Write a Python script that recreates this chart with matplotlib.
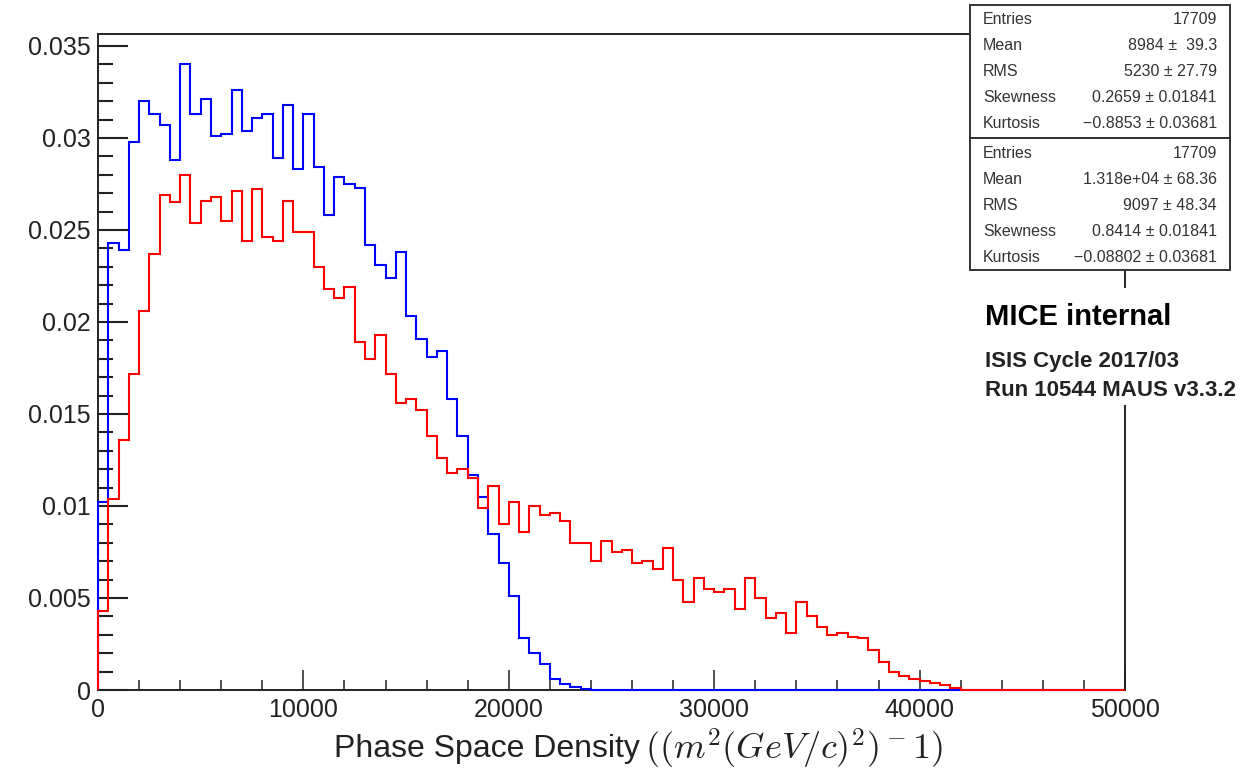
import matplotlib
matplotlib.use("Agg")
import matplotlib.pyplot as plt
from matplotlib.patches import Rectangle
from matplotlib.ticker import MultipleLocator, FormatStrFormatter
import numpy as np

plt.rcParams['font.family'] = ['Liberation Sans', 'DejaVu Sans']
plt.rcParams['mathtext.fontset'] = 'cm'

# 100 bins of 500 from 0 to 50000, normalised histograms
edges = np.arange(0, 50001, 500)

upstream = [0.0102, 0.0243, 0.0239, 0.0298, 0.0320, 0.0313, 0.0307, 0.0288, 0.0340, 0.0313,
            0.0321, 0.0301, 0.0302, 0.0326, 0.0304, 0.0311, 0.0313, 0.0289, 0.0318, 0.0283,
            0.0313, 0.0284, 0.0258, 0.0279, 0.0275, 0.0273, 0.0242, 0.0231, 0.0224, 0.0238,
            0.0203, 0.0191, 0.0181, 0.0184, 0.0158, 0.0138, 0.0117, 0.0105, 0.0085, 0.0069,
            0.0051, 0.0028, 0.0020, 0.0014, 0.0006, 0.00035, 0.00018, 0.00005] + [0.0] * 52

downstream = [0.0043, 0.0104, 0.0136, 0.0172, 0.0206, 0.0237, 0.0269, 0.0265, 0.0280, 0.0254,
              0.0266, 0.0268, 0.0255, 0.0271, 0.0244, 0.0272, 0.0246, 0.0244, 0.0266, 0.0249,
              0.0249, 0.0230, 0.0218, 0.0213, 0.0219, 0.0189, 0.0180, 0.0193, 0.0172, 0.0156,
              0.0158, 0.0152, 0.0138, 0.0126, 0.0118, 0.0120, 0.0115, 0.0099, 0.0111, 0.0090,
              0.0102, 0.0086, 0.0100, 0.0095, 0.0096, 0.0092, 0.0080, 0.0080, 0.0070, 0.0081,
              0.0075, 0.0076, 0.0069, 0.0070, 0.0066, 0.0077, 0.0060, 0.0048, 0.0061, 0.0055,
              0.0053, 0.0055, 0.0044, 0.0061, 0.0050, 0.0039, 0.0042, 0.0031, 0.0048, 0.0040,
              0.0034, 0.0030, 0.0031, 0.0029, 0.0028, 0.0022, 0.0015, 0.0010, 0.00076, 0.00062,
              0.00049, 0.00036, 0.00027, 0.00013] + [0.0] * 16

stat_names = ['Entries', 'Mean', 'RMS', 'Skewness', 'Kurtosis']
stats_up = ['17709', '8984 \u00b1  39.3', '5230 \u00b1 27.79',
            '0.2659 \u00b1 0.01841', '\u22120.8853 \u00b1 0.03681']
stats_down = ['17709', '1.318e+04 \u00b1 68.36', '9097 \u00b1 48.34',
              '0.8414 \u00b1 0.01841', '\u22120.08802 \u00b1 0.03681']

xlabel_text = 'Phase Space Density'
xlabel_unit = r'$((m^2(GeV/c)^2)^-1)$'
label_lines = ['MICE internal', 'ISIS Cycle 2017/03', 'Run 10544 MAUS v3.3.2']

W, H = 1247, 773
fig = plt.figure(figsize=(W / 100, H / 100), dpi=100)
ax = fig.add_axes([98 / W, 1 - 690 / H, (1125 - 98) / W, (690 - 34) / H])

ax.stairs(upstream, edges, baseline=0, color='#0000ff', lw=1.5, zorder=3, clip_on=False)
ax.stairs(downstream, edges, baseline=0, color='#ff0000', lw=1.5, zorder=4, clip_on=False)

ax.set_xlim(0, 50000)
ax.set_ylim(0, 0.03565)

ax.xaxis.set_major_locator(MultipleLocator(10000))
ax.xaxis.set_minor_locator(MultipleLocator(2000))
ax.yaxis.set_major_locator(MultipleLocator(0.005))
ax.yaxis.set_minor_locator(MultipleLocator(0.001))
ax.xaxis.set_major_formatter(FormatStrFormatter('%d'))
ax.yaxis.set_major_formatter(FormatStrFormatter('%g'))

ax.tick_params(axis='y', which='major', direction='in', length=21.6, width=1.5,
               labelsize=18, pad=5, colors='#222222')
ax.tick_params(axis='y', which='minor', direction='in', length=10.8, width=1.5, colors='#222222')
ax.tick_params(axis='x', which='major', direction='in', length=14.4, width=1.1,
               labelsize=18, pad=6, colors='#222222')
ax.tick_params(axis='x', which='minor', direction='in', length=7.2, width=1.1, colors='#222222')

for s in ax.spines.values():
    s.set_linewidth(1.4)
    s.set_color('#222222')

# axis title: plain words plus the unit in math italics
fig.text(640 / W, 1 - 749 / H, xlabel_text, fontsize=23, ha='right', va='center',
         color='#222222')
fig.text(645 / W, 1 - 749 / H, xlabel_unit, fontsize=26, ha='left', va='center',
         color='#222222')

# stat boxes, top right
def stat_box(y0, y1, values):
    fig.patches.append(Rectangle((970 / W, 1 - y1 / H), 260 / W, (y1 - y0) / H,
                                 transform=fig.transFigure, facecolor='white',
                                 edgecolor='#333333', lw=1.4, zorder=10))
    for i, (name, val) in enumerate(zip(stat_names, values)):
        yy = 1 - (y0 + 15 + 26 * i) / H
        fig.text(983 / W, yy, name, fontsize=11.5, va='center', ha='left',
                 color='#333333', zorder=11)
        fig.text(1217 / W, yy, val, fontsize=11.5, va='center', ha='right',
                 color='#333333', zorder=11)

stat_box(5, 138, stats_up)
stat_box(138, 270, stats_down)

# experiment label over the frame
fig.patches.append(Rectangle((975 / W, 1 - 405 / H), 270 / W, 117 / H,
                             transform=fig.transFigure, facecolor='white',
                             edgecolor='none', zorder=10))
fig.text(985 / W, 1 - 317 / H, label_lines[0], fontsize=21, fontweight='bold',
         va='center', ha='left', zorder=11)
fig.text(985 / W, 1 - 361 / H, label_lines[1], fontsize=16, fontweight='bold',
         va='center', ha='left', color='#222222', zorder=11)
fig.text(985 / W, 1 - 391 / H, label_lines[2], fontsize=16, fontweight='bold',
         va='center', ha='left', color='#222222', zorder=11)

fig.savefig('out.png', dpi=100)
